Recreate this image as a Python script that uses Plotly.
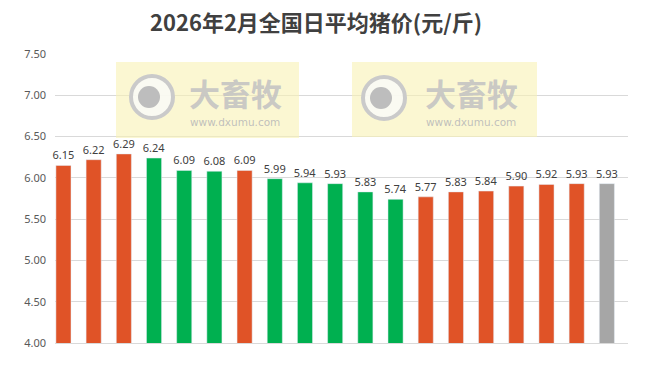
import plotly.graph_objects as go

days = [str(i) for i in range(1, 20)]
prices = [6.15, 6.22, 6.29, 6.24, 6.09, 6.08, 6.09, 5.99, 5.94, 5.93,
          5.83, 5.74, 5.77, 5.83, 5.84, 5.90, 5.92, 5.93, 5.93]
trend = ["up", "up", "up", "down", "down", "down", "up", "down", "down", "down",
         "down", "down", "up", "up", "up", "up", "up", "up", "flat"]
palette = {"up": "#E05327", "down": "#00B050", "flat": "#A6A6A6"}
colors = [palette[t] for t in trend]

W, H = 653, 367
ML, MR, MT, MB = 55, 25, 54, 24
PW, PH = W - ML - MR, H - MT - MB

def px(x):
    return (x - ML) / PW

def py(y):
    return (H - MB - y) / PH

fig = go.Figure()
fig.add_trace(go.Bar(
    x=list(range(len(days))), y=prices, marker_color=colors, width=0.5,
    text=[f"{v:.2f}" for v in prices], textposition="outside", constraintext="none",
    textfont=dict(size=11, color="#404040", family="Noto Sans, Liberation Sans"),
    cliponaxis=False, hoverinfo="skip"))

shapes = []
annotations = []
for (x0, y0, x1, y1, cx, cy, tx, ty, wy) in [
        (116, 62, 299, 138, 152, 97, 235, 93, 122),
        (352, 62, 537, 137, 384, 98, 471, 93, 122)]:
    shapes.append(dict(type="rect", xref="paper", yref="paper",
                       x0=px(x0), x1=px(x1), y0=py(y1), y1=py(y0),
                       fillcolor="rgba(248,241,180,0.6)", line_width=0, layer="above"))
    r = 21
    shapes.append(dict(type="circle", xref="paper", yref="paper",
                       x0=px(cx - r), x1=px(cx + r), y0=py(cy + r), y1=py(cy - r),
                       fillcolor="rgba(250,250,245,0.9)", line=dict(color="#CACACA", width=4),
                       layer="above"))
    r2 = 11
    shapes.append(dict(type="circle", xref="paper", yref="paper",
                       x0=px(cx - 3 - r2), x1=px(cx - 3 + r2), y0=py(cy + r2), y1=py(cy - r2),
                       fillcolor="#BDBDBD", line_width=0, layer="above"))
    annotations.append(dict(xref="paper", yref="paper", x=px(tx), y=py(ty),
                            xanchor="center", yanchor="middle",
                            text="<b>大畜牧</b>", showarrow=False,
                            font=dict(size=31, color="rgba(195,195,195,0.9)",
                                      family="Noto Sans CJK SC")))
    annotations.append(dict(xref="paper", yref="paper", x=px(tx), y=py(wy),
                            xanchor="center", yanchor="middle",
                            text="www.dxumu.com", showarrow=False,
                            font=dict(size=10.5, color="rgba(185,185,185,0.9)",
                                      family="DejaVu Sans")))

fig.update_layout(
    width=W, height=H, margin=dict(l=ML, r=MR, t=MT, b=MB),
    paper_bgcolor="white", plot_bgcolor="white", showlegend=False,
    title=dict(text="<b>2026年2月全国日平均猪价(元/斤)</b>", x=316 / W, xanchor="center",
               y=1 - 23 / H, yanchor="middle",
               font=dict(size=22, color="#404040", family="Noto Sans CJK SC")),
    xaxis=dict(range=[-0.28, 18.7], showticklabels=False, showgrid=False,
               zeroline=False, showline=True, linecolor="#D9D9D9", linewidth=1,
               ticks=""),
    yaxis=dict(range=[4.0, 7.5], dtick=0.5, tick0=4.0, tickformat=".2f",
               showgrid=True, gridcolor="#D9D9D9", gridwidth=1, zeroline=False,
               showline=False, ticks="", ticklabelstandoff=8,
               tickfont=dict(size=11, color="#595959", family="Noto Sans, Liberation Sans")),
    shapes=shapes, annotations=annotations, bargap=0.5,
)

fig.write_html("out.html")
